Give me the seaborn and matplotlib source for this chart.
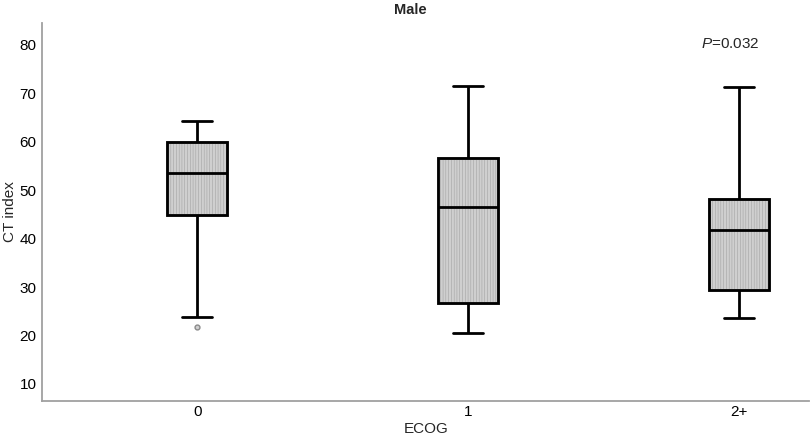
import matplotlib
matplotlib.use("Agg")
import matplotlib.pyplot as plt
from matplotlib.patches import PathPatch
import seaborn as sns
import pandas as pd

# Valores (resumo de cinco números por grupo)
grupos = ["0", "1", "2+"]
bigode_inf = [23.9, 20.6, 23.6]
q1 = [44.9, 26.8, 29.4]
mediana = [53.5, 46.6, 41.8]
q3 = [60.0, 56.6, 48.1]
bigode_sup = [64.2, 71.5, 71.3]
outliers = [[21.8], [], []]
texto_p = "=0.032"

sns.set_theme(style="white")
plt.rcParams["font.family"] = ["Liberation Sans", "DejaVu Sans"]
plt.rcParams["mathtext.fontset"] = "custom"
plt.rcParams["mathtext.it"] = "Liberation Sans:italic"
plt.rcParams["mathtext.rm"] = "Liberation Sans"
plt.rcParams["hatch.linewidth"] = 0.35


def amostra(i):
    # 9 pontos cujos quartis (interpolação linear) batem com o resumo
    base = [bigode_inf[i], q1[i], q1[i], mediana[i], mediana[i], q3[i], q3[i], bigode_sup[i]]
    extra = outliers[i] if outliers[i] else [bigode_inf[i]]
    return extra + base


linhas = []
for i, g in enumerate(grupos):
    for v in amostra(i):
        linhas.append({"ECOG": g, "CT index": v})
df = pd.DataFrame(linhas)

fig = plt.figure(figsize=(8.1, 4.42), dpi=100)
ax = fig.add_axes([0.052, 0.093, 0.947, 0.855])

sns.boxplot(
    data=df, x="ECOG", y="CT index", order=grupos,
    color="#cfcfcf", linecolor="black", linewidth=2, width=0.22,
    saturation=1,
    flierprops={"marker": "o", "markersize": 3.5, "markerfacecolor": "#d0d0d0",
                "markeredgecolor": "#8a8a8a", "markeredgewidth": 1.0},
    ax=ax,
)

# hachura vertical fina + contorno preto por cima
for p in list(ax.patches):
    p.set_hatch("||||||")
    p.set_edgecolor("#9c9c9c")
    contorno = PathPatch(p.get_path(), transform=p.get_transform(),
                         facecolor="none", edgecolor="black", linewidth=2, zorder=p.get_zorder() + 0.1)
    ax.add_patch(contorno)

ax.set_xlim(-0.572, 2.258)
ax.set_ylim(6.5, 84.5)
ax.set_yticks([10, 20, 30, 40, 50, 60, 70, 80])
ax.tick_params(axis="y", length=0, labelsize=11, colors="black", pad=4)
ax.tick_params(axis="x", length=0, labelsize=11, colors="black", pad=3)
ax.set_xlabel("ECOG", fontsize=11, labelpad=2)
ax.set_ylabel("CT index", fontsize=11, va="center")
ax.yaxis.set_label_coords(-0.042, 0.5)

for s in ["top", "right"]:
    ax.spines[s].set_visible(False)
for s in ["left", "bottom"]:
    ax.spines[s].set_color("#a0a0a0")
    ax.spines[s].set_linewidth(1.3)

ax.text(0.897, 0.944, r"$\it{P}$" + texto_p, transform=ax.transAxes,
        ha="center", va="center", fontsize=11)
fig.text(0.506, 0.978, "Male", ha="center", va="center", fontsize=10.5, fontweight="bold")

fig.savefig("out.png", dpi=100)
